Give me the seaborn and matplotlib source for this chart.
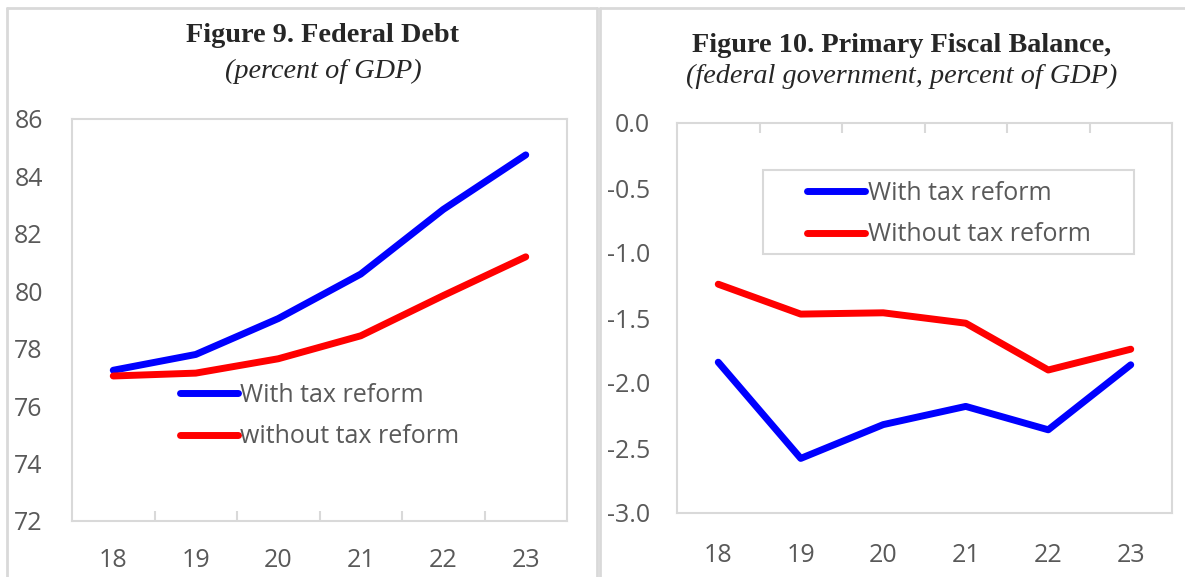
import pandas as pd
import matplotlib.pyplot as plt
import seaborn as sns
from matplotlib.patches import Rectangle
from matplotlib.lines import Line2D

# Data
years = [18, 19, 20, 21, 22, 23]
year_labels = ['18', '19', '20', '21', '22', '23']
debt_with = [77.25, 77.8, 79.05, 80.6, 82.85, 84.75]
debt_without = [77.05, 77.15, 77.65, 78.45, 79.85, 81.2]
bal_with = [-1.84, -2.58, -2.32, -2.18, -2.36, -1.86]
bal_without = [-1.24, -1.47, -1.46, -1.54, -1.90, -1.74]

debt_labels = ['With tax reform', 'without tax reform']
bal_labels = ['With tax reform', 'Without tax reform']

debt = pd.DataFrame({'year': years * 2,
                     'value': debt_with + debt_without,
                     'series': [debt_labels[0]] * 6 + [debt_labels[1]] * 6})
bal = pd.DataFrame({'year': years * 2,
                    'value': bal_with + bal_without,
                    'series': [bal_labels[0]] * 6 + [bal_labels[1]] * 6})

sns.set_style('white')
plt.rcParams['font.family'] = ['Open Sans', 'DejaVu Sans']

W, H = 1185, 577
fig = plt.figure(figsize=(W / 100, H / 100), dpi=100)

grid = '#D9D9D9'
txt = '#595959'
colors = ['#0000FF', '#FF0000']

def px(x0, y0, x1, y1):
    # pixel box (top-left origin) -> figure fraction rect
    return [x0 / W, 1 - y1 / H, (x1 - x0) / W, (y1 - y0) / H]

ax1 = fig.add_axes(px(72, 119, 567, 521))
ax2 = fig.add_axes(px(677, 123, 1172, 513))

for ax, df, lim, ypad, xpad in [(ax1, debt, (72, 86), 21, 19.5),
                                (ax2, bal, (-3, 0), 19.5, 21.5)]:
    sns.lineplot(data=df, x='year', y='value', hue='series', ax=ax,
                 palette=colors, linewidth=5, solid_capstyle='round',
                 legend=False)
    ax.set_xlim(17.5, 23.5)
    ax.set_ylim(*lim)
    ax.set_xlabel('')
    ax.set_ylabel('')
    ax.set_xticks(years)
    ax.set_xticklabels(year_labels)
    ax.set_xticks([18.5, 19.5, 20.5, 21.5, 22.5], minor=True)
    for s in ax.spines.values():
        s.set_color(grid)
        s.set_linewidth(1.5)
    ax.tick_params(axis='both', which='major', length=0, labelsize=18,
                   colors=txt)
    ax.tick_params(axis='x', which='major', pad=xpad)
    ax.tick_params(axis='y', which='major', pad=ypad)

ax1.set_yticks([72, 74, 76, 78, 80, 82, 84, 86])
ax2.set_yticks([0, -0.5, -1, -1.5, -2, -2.5, -3])
ax2.set_yticklabels(['0.0', '-0.5', '-1.0', '-1.5', '-2.0', '-2.5', '-3.0'])

ax1.tick_params(axis='x', which='minor', bottom=True, top=False,
                direction='in', length=7, width=1.5, color=grid)
ax2.tick_params(axis='x', which='minor', bottom=False, top=True,
                direction='in', length=7, width=1.5, color=grid)

# legends
def handles():
    return [Line2D([], [], color=c, lw=5, solid_capstyle='round')
            for c in colors]

leg_kw = dict(loc='upper left', frameon=False, fontsize=18, labelcolor=txt,
              handlelength=2.3, handletextpad=0.12, labelspacing=0.65,
              borderpad=0, borderaxespad=0)
fig.legend(handles(), debt_labels, bbox_to_anchor=(180 / W, 1 - 383 / H),
           **leg_kw)
fig.legend(handles(), bal_labels, bbox_to_anchor=(807 / W, 1 - 181 / H),
           **leg_kw)
fig.add_artist(Rectangle((763 / W, 1 - 254 / H), (1134 - 763) / W, 84 / H,
                         transform=fig.transFigure, fill=False,
                         edgecolor=grid, lw=1.5))

# titles
serif = 'Liberation Serif'
fig.text(323 / W, 1 - 42 / H, 'Figure 9. Federal Debt', ha='center',
         va='baseline', fontsize=20.3, fontweight='bold', family=serif)
fig.text(323 / W, 1 - 78 / H, '(percent of GDP)', ha='center',
         va='baseline', fontsize=20.3, style='italic', family=serif)
fig.text(902 / W, 1 - 52 / H, 'Figure 10. Primary Fiscal Balance,',
         ha='center', va='baseline', fontsize=20.3, fontweight='bold',
         family=serif)
fig.text(902 / W, 1 - 83 / H, '(federal government, percent of GDP)',
         ha='center', va='baseline', fontsize=20.3, style='italic',
         family=serif)

# panel borders
for x in [7, 597, 600]:
    fig.add_artist(Line2D([x / W, x / W], [0, 1 - 8 / H],
                          transform=fig.transFigure, color=grid, lw=2))
fig.add_artist(Line2D([7 / W, 597 / W], [1 - 8 / H, 1 - 8 / H],
                      transform=fig.transFigure, color=grid, lw=2))
fig.add_artist(Line2D([600 / W, 1], [1 - 8 / H, 1 - 8 / H],
                      transform=fig.transFigure, color=grid, lw=2))

fig.savefig('out.png', dpi=100)
